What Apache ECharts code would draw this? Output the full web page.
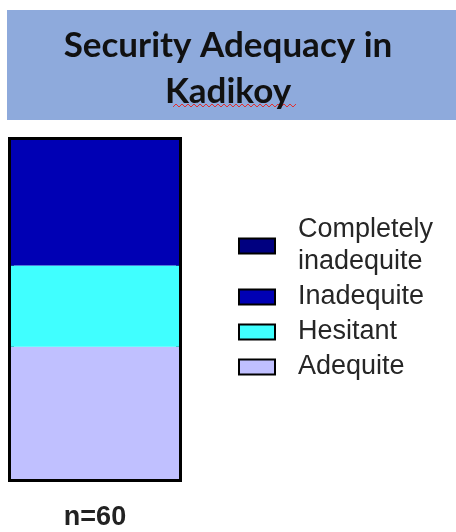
<!DOCTYPE html>
<html>
<head>
<meta charset="utf-8">
<style>
  html, body { margin: 0; width: 100%; height: 100%; background: #fff; }
  #chart { width: 456px; height: 532px; }
</style>
</head>
<body>
<div id="chart"></div>
<script src="https://cdn.jsdelivr.net/npm/echarts@6/dist/echarts.min.js"></script>
<script>
// one stacked bar, percentages (bottom to top)
var categories = ['n=60'];
var seriesNames = ['Adequite', 'Hesitant', 'Inadequite', 'Completely inadequite'];
var seriesValues = [[39], [24], [37], [0]];
var seriesColors = ['#c0c0ff', '#40ffff', '#0000b4', '#000080'];
var legendOrder = ['Completely inadequite', 'Inadequite', 'Hesitant', 'Adequite'];

var chart = echarts.init(document.getElementById('chart'));

var series = seriesNames.map(function (name, i) {
  return {
    name: name,
    type: 'bar',
    stack: 'all',
    barWidth: '100%',
    data: seriesValues[i],
    itemStyle: { color: seriesColors[i] }
  };
});

chart.setOption({
  animation: false,
  title: {
    text: 'Security Adequacy in\nKadikoy',
    left: 'center',
    top: 18,
    textStyle: {
      fontFamily: 'Lato',
      fontWeight: 'bold',
      fontSize: 35,
      lineHeight: 46,
      color: '#111'
    }
  },
  graphic: [
    {
      type: 'rect',
      z: -1,
      shape: { x: 7, y: 10, width: 449, height: 110 },
      style: { fill: '#8eaadc' }
    },
    {
      // spell-check squiggle under "Kadikoy"
      type: 'polyline',
      shape: {
        points: (function () {
          var pts = [];
          for (var x = 173, k = 0; x <= 298; x += 3, k++) pts.push([x, k % 2 ? 104 : 107]);
          return pts;
        })()
      },
      style: { stroke: '#e03030', lineWidth: 1, fill: null }
    }
  ],
  legend: {
    orient: 'vertical',
    left: 238,
    top: 214,
    padding: 0,
    itemGap: 3,
    itemWidth: 36,
    itemHeight: 15,
    icon: 'rect',
    data: legendOrder,
    selectedMode: false,
    formatter: function (name) {
      return name === 'Completely inadequite' ? 'Completely\ninadequite' : name;
    },
    itemStyle: { borderColor: '#000', borderWidth: 2 },
    textStyle: {
      fontFamily: 'Liberation Sans',
      fontSize: 27,
      lineHeight: 32,
      color: '#262626',
      padding: [0, 0, 0, 18]
    }
  },
  grid: {
    left: 11,
    top: 140,
    width: 168,
    height: 339,
    show: true,
    borderColor: '#000',
    borderWidth: 6
  },
  xAxis: {
    type: 'category',
    data: categories,
    axisLine: { show: false },
    axisTick: { show: false },
    axisLabel: {
      margin: 25,
      fontFamily: 'Liberation Sans',
      fontWeight: 'bold',
      fontSize: 27,
      color: '#222'
    }
  },
  yAxis: {
    type: 'value',
    min: 0,
    max: 100,
    show: false
  },
  series: series
});
</script>
</body>
</html>
